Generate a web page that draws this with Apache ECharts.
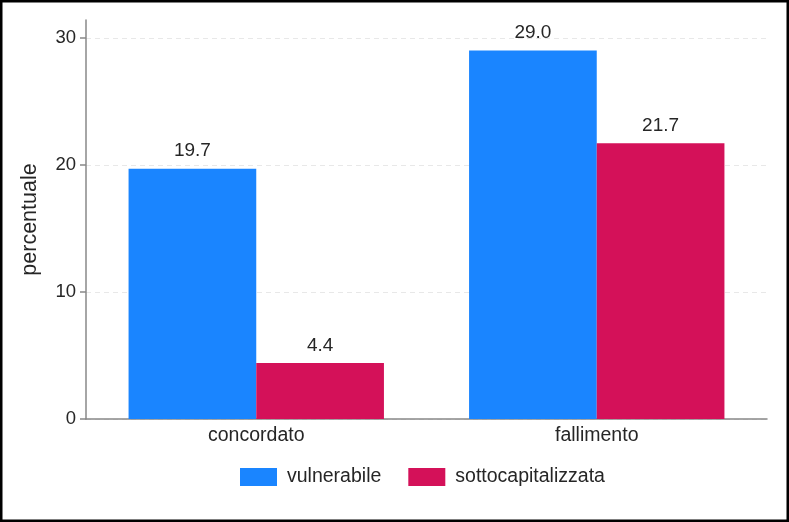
<!DOCTYPE html>
<html>
<head>
<meta charset="utf-8">
<script src="https://cdn.jsdelivr.net/npm/echarts@6/dist/echarts.min.js"></script>
<style>
html,body{margin:0;padding:0;background:#fff;}
#chart{width:789px;height:522px;}
</style>
</head>
<body>
<div id="chart"></div>
<script>
const categories = ['concordato', 'fallimento'];
const seriesNames = ['vulnerabile', 'sottocapitalizzata'];
const vulnerabile = [19.7, 29.0];
const sottocapitalizzata = [4.4, 21.7];
const yTicks = [0, 10, 20, 30];

const FONT = '"Liberation Sans", Arial, Helvetica, sans-serif';
const TXT = '#262626';

const chart = echarts.init(document.getElementById('chart'), null, {renderer: 'canvas'});
const labelCfg = {
  show: true, position: 'top', distance: 8,
  color: TXT, fontFamily: FONT, fontSize: 19,
  formatter: p => p.value.toFixed(1)
};
chart.setOption({
  animation: false,
  backgroundColor: '#fff',
  textStyle: {fontFamily: FONT},
  grid: {left: 86, right: 22, top: 20, bottom: 103, containLabel: false},
  legend: {
    data: seriesNames,
    left: 240, top: 467, padding: 0,
    itemWidth: 37, itemHeight: 18, itemGap: 27,
    icon: 'rect',
    textStyle: {color: TXT, fontFamily: FONT, fontSize: 19.5, padding: [0,0,0,5]}
  },
  xAxis: {
    type: 'category',
    data: categories,
    axisLine: {show: true, lineStyle: {color: '#888', width: 1.5}},
    axisTick: {show: false},
    axisLabel: {color: TXT, fontFamily: FONT, fontSize: 19.5, margin: 7},
    splitLine: {show: false}
  },
  yAxis: {
    type: 'value',
    min: 0, max: 31.4,
    name: 'percentuale',
    nameLocation: 'middle',
    nameGap: 45,
    nameTextStyle: {color: TXT, fontFamily: FONT, fontSize: 21.5},
    axisLine: {show: true, lineStyle: {color: '#888', width: 1.5}},
    axisTick: {show: true, length: 6, customValues: yTicks, lineStyle: {color: '#888', width: 1.5}},
    axisLabel: {color: TXT, fontFamily: FONT, fontSize: 18.5, margin: 10, customValues: yTicks},
    splitLine: {show: true, lineStyle: {color: '#e8e8e8', type: [5, 4], width: 1}}
  },
  series: [
    {name: seriesNames[0], type: 'bar', data: vulnerabile, barGap: '0%', barCategoryGap: '25%',
     itemStyle: {color: '#1a85ff'}, label: labelCfg},
    {name: seriesNames[1], type: 'bar', data: sottocapitalizzata, barGap: '0%', barCategoryGap: '25%',
     itemStyle: {color: '#d41159'}, label: labelCfg}
  ],
  graphic: [{
    type: 'rect', silent: true, z: 100,
    shape: {x: 1.25, y: 1.25, width: 786.5, height: 519.5},
    style: {fill: 'none', stroke: '#000', lineWidth: 2.5}
  }]
});
</script>
</body>
</html>
